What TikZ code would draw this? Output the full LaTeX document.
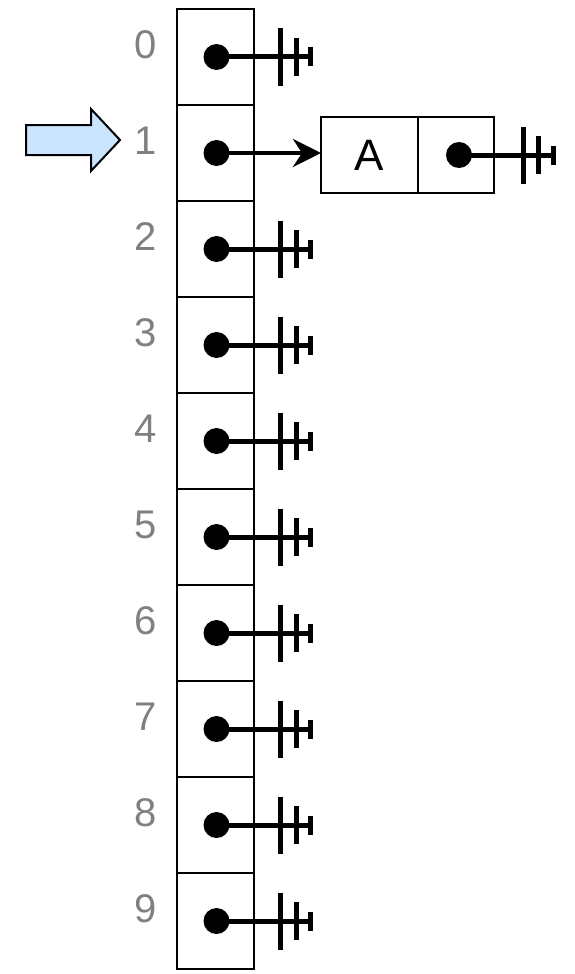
\documentclass[tikz,border=0pt]{standalone}
\usepackage{fontspec}
\setmainfont{Liberation Sans}
\usetikzlibrary{arrows.meta}
\definecolor{arrowblue}{HTML}{CCE5FF}
\begin{document}
\begin{tikzpicture}[x=1pt,y=-1pt,
  cellbox/.style={draw=black, line width=2pt, minimum width=77pt, minimum height=96pt, inner sep=0pt, outer sep=0pt},
  linkbox/.style={draw=black, line width=2pt, minimum height=76pt, inner sep=0pt, outer sep=0pt},
  dotnode/.style={circle, fill=black, minimum size=26pt, inner sep=0pt, outer sep=0pt},
  idx/.style={text=black!50, inner sep=0pt, font=\fontsize{40}{40}\selectfont},
  wire/.style={line width=5pt},
  tickline/.style={line width=5pt},
  ground/.pic={
    \draw[tickline] (-30,-28.5) -- (-30,28.5);
    \draw[tickline] (-14.5,-19) -- (-14.5,19);
    \draw[tickline] (0,-9.5) -- (0,9.5);
  },
  pointer/.style={line width=4.5pt, -{Stealth[length=28pt, width=28pt, inset=9pt]}},
]
\useasboundingbox (0,0) rectangle (574,974);

% index cells
\foreach \k in {0,...,9} {
  \node[cellbox] (c\k) at (215.5,{57+96*\k}) {};
  \node[dotnode] (d\k) at (216.5,{57+96*\k}) {};
  \node[idx] (n\k) at (146,{45+96*\k}) {\k};
}

% null pointers
\foreach \k in {0,2,3,4,5,6,7,8,9} {
  \coordinate (g\k) at (310.5,{57+96*\k});
  \draw[wire] (d\k.center) -- (g\k);
  \pic at (g\k) {ground};
}

% linked node
\node[linkbox, minimum width=97pt, font=\fontsize{44}{44}\selectfont] (a) at (369.5,155) {A};
\node[linkbox, minimum width=76pt] (an) at (456,155) {};
\node[dotnode] (da) at (459,155) {};
\coordinate (ga) at (553,155);
\draw[wire] (da.center) -- (ga);
\pic at (ga) {ground};

\draw[pointer] (d1.center) -- (d1.center -| a.west);

% blue arrow marker
\draw[line width=2pt, fill=arrowblue, line join=miter]
  (26,125) -- (91,125) -- (91,109) -- (120,140) -- (91,171) -- (91,155) -- (26,155) -- cycle;
\end{tikzpicture}
\end{document}
